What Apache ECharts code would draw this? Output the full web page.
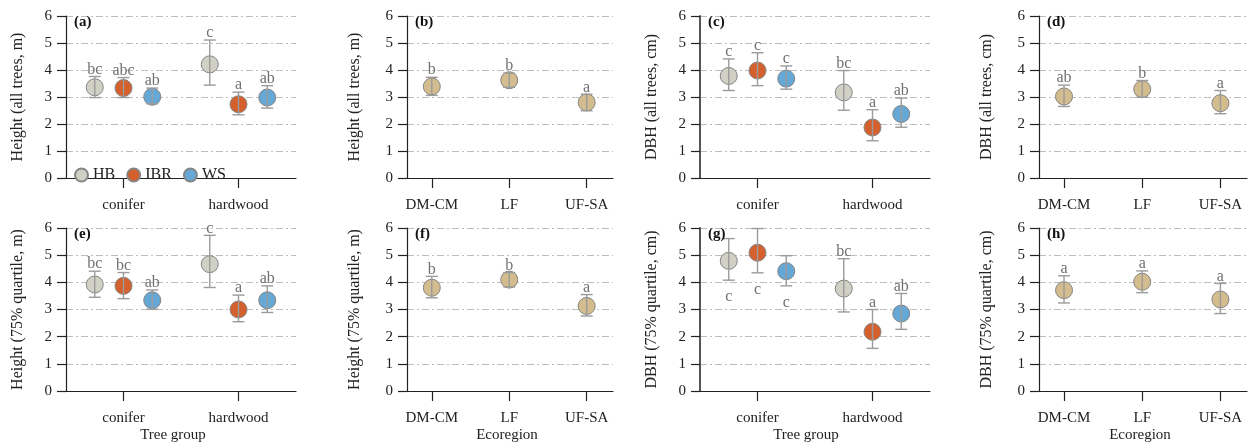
<!DOCTYPE html>
<html><head><meta charset="utf-8">
<script src="https://cdn.jsdelivr.net/npm/echarts@6/dist/echarts.min.js"></script>
<style>html,body{margin:0;padding:0;background:#fff}#c{width:1249px;height:444px}</style>
</head><body><div id="c"></div>
<script>
// ---------- DATA ----------
const treeGroups = ['conifer', 'hardwood'];
const ecoregions = ['DM-CM', 'LF', 'UF-SA'];
const sites = ['HB', 'IBR', 'WS'];
const yTicks = [0, 1, 2, 3, 4, 5, 6];

// (a) Height (all trees, m) — rows: HB, IBR, WS; cols: conifer, hardwood
const aMean = [[3.36, 4.21], [3.33, 2.73], [3.01, 2.98]];
const aLow  = [[2.98, 3.44], [2.98, 2.34], [2.75, 2.59]];
const aHigh = [[3.76, 5.11], [3.72, 3.18], [3.33, 3.42]];
const aLetters = [['bc', 'c'], ['abc', 'a'], ['ab', 'ab']];

// (b) Height (all trees, m) by ecoregion
const bMean = [3.39, 3.62, 2.80];
const bLow  = [3.06, 3.36, 2.49];
const bHigh = [3.73, 3.88, 3.10];
const bLetters = ['b', 'b', 'a'];

// (c) DBH (all trees, cm)
const cMean = [[3.78, 3.17], [3.98, 1.87], [3.68, 2.37]];
const cLow  = [[3.24, 2.51], [3.42, 1.38], [3.29, 1.88]];
const cHigh = [[4.41, 3.98], [4.64, 2.53], [4.15, 2.96]];
const cLetters = [['c', 'bc'], ['c', 'a'], ['c', 'ab']];

// (d) DBH (all trees, cm) by ecoregion
const dMean = [3.02, 3.29, 2.77];
const dLow  = [2.65, 2.99, 2.38];
const dHigh = [3.44, 3.61, 3.24];
const dLetters = ['ab', 'b', 'a'];

// (e) Height (75% quartile, m)
const eMean = [[3.92, 4.67], [3.87, 3.00], [3.34, 3.34]];
const eLow  = [[3.45, 3.81], [3.40, 2.55], [3.01, 2.89]];
const eHigh = [[4.41, 5.73], [4.36, 3.53], [3.72, 3.87]];
const eLetters = [['bc', 'c'], ['bc', 'a'], ['ab', 'ab']];

// (f) Height (75% quartile, m) by ecoregion
const fMean = [3.80, 4.10, 3.13];
const fLow  = [3.43, 3.83, 2.76];
const fHigh = [4.22, 4.36, 3.55];
const fLetters = ['b', 'b', 'a'];

// (g) DBH (75% quartile, cm)
const gMean = [[4.79, 3.77], [5.09, 2.18], [4.41, 2.85]];
const gLow  = [[4.08, 2.91], [4.35, 1.57], [3.87, 2.27]];
const gHigh = [[5.61, 4.87], [5.98, 3.00], [4.98, 3.59]];
const gLetters = [['c', 'bc'], ['c', 'a'], ['c', 'ab']];
const gLetterBelow = [[true, false], [true, false], [true, false]];

// (h) DBH (75% quartile, cm) by ecoregion
const hMean = [3.71, 4.02, 3.37];
const hLow  = [3.24, 3.62, 2.85];
const hHigh = [4.24, 4.42, 3.96];
const hLetters = ['a', 'a', 'a'];

// ---------- LAYOUT / STYLE ----------
const FONT = '"Liberation Serif","Times New Roman","DejaVu Serif",serif';
const siteColors = ['#d1d0c5', '#d4612d', '#65a7d5'];
const ecoColor = '#d3bc8e';
const rows = [{top: 16, height: 162}, {top: 228, height: 163}];

const panels = [
  {tag: '(a)', yTitle: 'Height (all trees, m)', tg: true, mean: aMean, low: aLow, high: aHigh, letters: aLetters, left: 66, width: 230, row: 0},
  {tag: '(b)', yTitle: 'Height (all trees, m)', tg: false, mean: bMean, low: bLow, high: bHigh, letters: bLetters, left: 407, width: 206, row: 0},
  {tag: '(c)', yTitle: 'DBH (all trees, cm)', tg: true, mean: cMean, low: cLow, high: cHigh, letters: cLetters, left: 700, width: 230, row: 0, thickY: true},
  {tag: '(d)', yTitle: 'DBH (all trees, cm)', tg: false, mean: dMean, low: dLow, high: dHigh, letters: dLetters, left: 1039, width: 208, row: 0},
  {tag: '(e)', yTitle: 'Height (75% quartile, m)', tg: true, mean: eMean, low: eLow, high: eHigh, letters: eLetters, left: 66, width: 230, row: 1, xTitle: 'Tree group', xTitleX: 173},
  {tag: '(f)', yTitle: 'Height (75% quartile, m)', tg: false, mean: fMean, low: fLow, high: fHigh, letters: fLetters, left: 407, width: 206, row: 1, xTitle: 'Ecoregion', xTitleX: 507},
  {tag: '(g)', yTitle: 'DBH (75% quartile, cm)', tg: true, mean: gMean, low: gLow, high: gHigh, letters: gLetters, below: gLetterBelow, left: 700, width: 230, row: 1, xTitle: 'Tree group', xTitleX: 806, thickY: true},
  {tag: '(h)', yTitle: 'DBH (75% quartile, cm)', tg: false, mean: hMean, low: hLow, high: hHigh, letters: hLetters, left: 1039, width: 208, row: 1, xTitle: 'Ecoregion', xTitleX: 1140}
];

function errorSeries(idx, items) {
  return {
    type: 'custom', xAxisIndex: idx, yAxisIndex: idx, z: 6, silent: true,
    data: items.map(d => [d.x, d.lo, d.hi]),
    encode: {x: 0, y: [1, 2]},
    renderItem: (params, api) => {
      const d = items[params.dataIndex];
      const x = api.value(0);
      const top = api.coord([x, api.value(2)]);
      const bot = api.coord([x, api.value(1)]);
      const cap = 6;
      const ls = {stroke: '#9b9b9b', lineWidth: 1.4};
      const below = !!d.below;
      return {type: 'group', children: [
        {type: 'line', shape: {x1: top[0], y1: top[1], x2: bot[0], y2: bot[1]}, style: ls},
        {type: 'line', shape: {x1: top[0] - cap, y1: top[1], x2: top[0] + cap, y2: top[1]}, style: ls},
        {type: 'line', shape: {x1: bot[0] - cap, y1: bot[1], x2: bot[0] + cap, y2: bot[1]}, style: ls},
        {type: 'text', x: top[0], y: below ? bot[1] + 9 : top[1] + 1,
          style: {text: d.letter, align: 'center', verticalAlign: below ? 'top' : 'bottom',
            textAlign: 'center', textVerticalAlign: below ? 'top' : 'bottom',
            fill: '#707070', font: '16px ' + FONT}}
      ]};
    }
  };
}

const grid = [], xAxis = [], yAxis = [], series = [], graphic = [];
panels.forEach((p, i) => {
  const r = rows[p.row];
  grid.push({left: p.left, top: r.top, width: p.width, height: r.height});
  const cats = p.tg ? treeGroups : ecoregions;
  const catIdx = cats.map((_, k) => k);
  xAxis.push({
    type: 'value', gridIndex: i, min: p.tg ? -0.5 : -0.32, max: p.tg ? 1.5 : 2.34,
    axisLine: {show: true, onZero: false, lineStyle: {color: '#222', width: 1.2}},
    axisTick: {show: true, customValues: catIdx, length: 10, lineStyle: {color: '#222', width: 1.2}},
    axisLabel: {show: true, customValues: catIdx, formatter: v => cats[Math.round(v)], margin: 20,
      color: '#222', fontFamily: FONT, fontSize: 15},
    splitLine: {show: false}
  });
  yAxis.push({
    type: 'value', gridIndex: i, min: yTicks[0], max: yTicks[yTicks.length - 1], interval: 1,
    axisLine: {show: true, onZero: false, lineStyle: {color: p.thickY ? '#555' : '#222', width: p.thickY ? 2 : 1.2}},
    axisTick: {show: true, length: 9, lineStyle: {color: '#222', width: 1.2}},
    axisLabel: {color: '#222', fontFamily: FONT, fontSize: 15, margin: 14},
    splitLine: {show: true, lineStyle: {color: '#bdbdbd', width: 1, type: [7, 3, 2, 3]}}
  });

  const items = [];
  if (p.tg) {
    sites.forEach((s, si) => {
      const off = (si - 1) * 0.25;
      series.push({
        type: 'scatter', name: s, xAxisIndex: i, yAxisIndex: i, symbol: 'circle', symbolSize: 17, z: 3,
        silent: true,
        itemStyle: {color: siteColors[si], borderColor: '#858585', borderWidth: 1, opacity: 1},
        data: p.mean[si].map((v, k) => [k + off, v])
      });
      p.mean[si].forEach((v, k) => items.push({x: k + off, lo: p.low[si][k], hi: p.high[si][k],
        letter: p.letters[si][k], below: p.below ? p.below[si][k] : false}));
    });
  } else {
    series.push({
      type: 'scatter', name: 'Ecoregion', xAxisIndex: i, yAxisIndex: i, symbol: 'circle', symbolSize: 17, z: 3,
      silent: true,
      itemStyle: {color: ecoColor, borderColor: '#858585', borderWidth: 1, opacity: 1},
      data: p.mean.map((v, k) => [k, v])
    });
    p.mean.forEach((v, k) => items.push({x: k, lo: p.low[k], hi: p.high[k], letter: p.letters[k], below: false}));
  }
  series.push(errorSeries(i, items));

  graphic.push({type: 'text', x: p.left + 8, y: r.top + 6, z: 10,
    style: {text: p.tag, font: 'bold 15px ' + FONT, fill: '#111', verticalAlign: 'middle', textVerticalAlign: 'middle'}});
  graphic.push({type: 'text', x: p.left - (p.tg ? 48 : 52), y: r.top + r.height / 2, rotation: Math.PI / 2,
    style: {text: p.yTitle, font: '16px ' + FONT, fill: '#222', align: 'center', verticalAlign: 'middle',
      textAlign: 'center', textVerticalAlign: 'middle'}});
  if (p.xTitle) {
    graphic.push({type: 'text', x: p.xTitleX, y: 435,
      style: {text: p.xTitle, font: '15px ' + FONT, fill: '#222', align: 'center', verticalAlign: 'middle',
        textAlign: 'center', textVerticalAlign: 'middle'}});
  }
});

const chart = echarts.init(document.getElementById('c'), null, {renderer: 'canvas'});
chart.setOption({
  animation: false,
  backgroundColor: '#fff',
  grid, xAxis, yAxis, series, graphic,
  legend: {data: sites, left: 69, top: 162, orient: 'horizontal', icon: 'circle', itemWidth: 13, itemHeight: 13,
    itemGap: 11, selectedMode: false, textStyle: {fontFamily: FONT, fontSize: 16, color: '#222'}}
});
</script>
</body></html>
